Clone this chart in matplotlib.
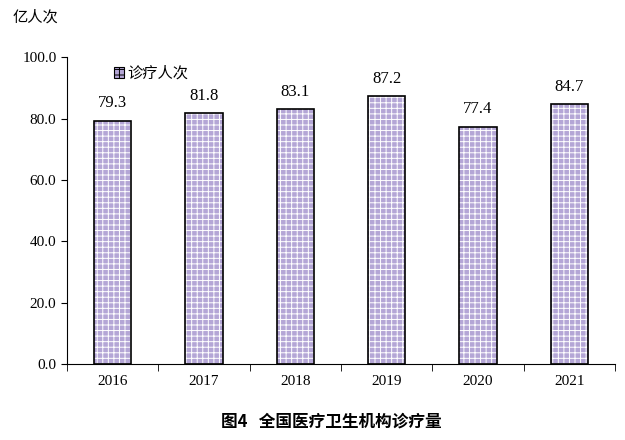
import matplotlib; matplotlib.use("Agg")
import matplotlib.pyplot as plt
import numpy as np

plt.rcParams['font.family'] = ['Liberation Serif', 'Noto Sans CJK SC', 'DejaVu Sans']
plt.rcParams['hatch.linewidth'] = 0.7

years = ['2016', '2017', '2018', '2019', '2020', '2021']
visits = [79.3, 81.8, 83.1, 87.2, 77.4, 84.7]

fig = plt.figure(figsize=(6.25, 4.4), dpi=100)
ax = fig.add_axes([0.107, 0.173, 0.877, 0.697])
x = np.arange(len(years))
# fill with white hatch, then black outline on top
ax.bar(x, visits, width=0.41, color='#b4a6d6', edgecolor='white', linewidth=0,
       hatch='+++', label='诊疗人次')
ax.bar(x, visits, width=0.41, color='none', edgecolor='black', linewidth=1.2)
for xi, v in zip(x, visits):
    ax.text(xi, v + 3, f'{v:.1f}', ha='center', va='bottom', fontsize=12)
ax.set_xlim(-0.5, len(years) - 0.5)
ax.set_ylim(0, 100)
ax.set_yticks(np.arange(0, 101, 20))
ax.set_yticklabels([f'{t:.1f}' for t in np.arange(0, 101, 20)], fontsize=11)
ax.set_xticks(x)
ax.set_xticklabels(years, fontsize=11)
ax.set_xticks(np.arange(-0.5, len(years), 1), minor=True)
ax.tick_params(axis='x', which='major', length=0, pad=8)
ax.tick_params(axis='x', which='minor', length=5, direction='out')
ax.tick_params(axis='y', length=4, direction='out')
for s in ['top', 'right']:
    ax.spines[s].set_visible(False)
leg = ax.legend(loc='upper left', bbox_to_anchor=(0.06, 1.02), frameon=False,
                prop={'family': 'Noto Sans CJK SC', 'size': 11}, handlelength=0.7,
                handleheight=0.7, handletextpad=0.2)
leg.get_patches()[0].set_edgecolor('black')
leg.get_patches()[0].set_linewidth(0.8)
fig.text(0.02, 0.95, '亿人次', fontsize=11, family='Noto Sans CJK SC')
fig.text(0.53, 0.03, '图4   全国医疗卫生机构诊疗量', fontsize=12, weight='bold',
         ha='center', family='Noto Sans CJK SC')
fig.savefig('out.png', dpi=100)
